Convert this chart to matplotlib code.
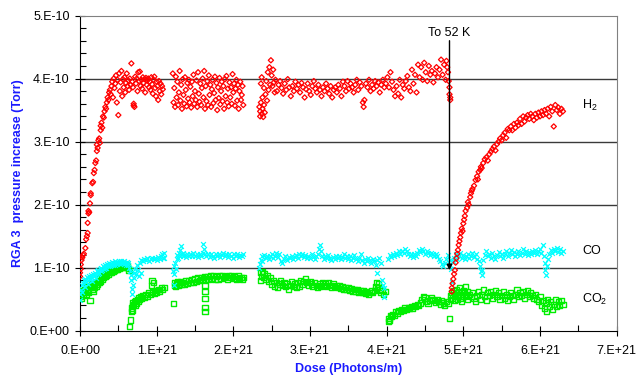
import numpy as np
import matplotlib
matplotlib.use("Agg")
import matplotlib.pyplot as plt
from matplotlib.ticker import MultipleLocator, FuncFormatter

plt.rcParams["font.family"] = ["Liberation Sans", "DejaVu Sans"]
plt.rcParams["mathtext.fontset"] = "custom"
plt.rcParams["mathtext.rm"] = "Liberation Sans"
plt.rcParams["mathtext.it"] = "Liberation Sans"

# dose in units of 1e21 photons/m, pressure in units of 1e-10 Torr
h2_dose = [
    0.00, 0.00, 0.01, 0.01, 0.02, 0.03, 0.04, 0.05, 0.07, 0.08, 0.09, 0.10, 0.10, 0.11, 0.11, 0.12,
    0.13, 0.14, 0.14, 0.16, 0.17, 0.18, 0.19, 0.20, 0.21, 0.22, 0.22, 0.23, 0.24, 0.25, 0.26, 0.27,
    0.27, 0.28, 0.29, 0.30, 0.31, 0.32, 0.33, 0.34, 0.35, 0.36, 0.37, 0.38, 0.39, 0.40, 0.41, 0.42,
    0.43, 0.44, 0.45, 0.46, 0.47, 0.48, 0.49, 0.50, 0.51, 0.52, 0.53, 0.54, 0.55, 0.56, 0.57, 0.58,
    0.59, 0.60, 0.61, 0.62, 0.63, 0.64, 0.65, 0.66, 0.67, 0.68, 0.69, 0.70, 0.70, 0.71, 0.72, 0.73,
    0.74, 0.75, 0.76, 0.77, 0.78, 0.79, 0.80, 0.81, 0.82, 0.83, 0.84, 0.85, 0.86, 0.87, 0.88, 0.89,
    0.90, 0.91, 0.92, 0.93, 0.94, 0.95, 0.96, 0.97, 0.98, 0.99, 1.00, 1.01, 1.02, 1.03, 1.04, 1.05,
    1.06, 1.07, 1.08,
    1.21, 1.22, 1.23, 1.24, 1.25, 1.26, 1.27, 1.28, 1.29, 1.30, 1.31, 1.32, 1.33, 1.34, 1.35, 1.36,
    1.37, 1.38, 1.39, 1.40, 1.41, 1.42, 1.43, 1.44, 1.45, 1.46, 1.47, 1.48, 1.49, 1.50, 1.51, 1.52,
    1.53, 1.54, 1.55, 1.56, 1.57, 1.58, 1.59, 1.60, 1.61, 1.62, 1.63, 1.64, 1.65, 1.66, 1.67, 1.68,
    1.69, 1.70, 1.71, 1.72, 1.73, 1.74, 1.75, 1.76, 1.77, 1.78, 1.79, 1.80, 1.81, 1.82, 1.83, 1.84,
    1.85, 1.86, 1.87, 1.88, 1.89, 1.90, 1.91, 1.92, 1.93, 1.94, 1.95, 1.96, 1.97, 1.98, 1.99, 2.00,
    2.01, 2.02, 2.03, 2.04, 2.05, 2.06, 2.07, 2.08, 2.09, 2.10, 2.11, 2.12, 2.13,
    2.34, 2.35, 2.35, 2.36, 2.36, 2.37, 2.37, 2.38, 2.38, 2.39, 2.40, 2.40, 2.41, 2.42, 2.43, 2.44,
    2.45, 2.46, 2.47, 2.48, 2.49, 2.50, 2.51, 2.52, 2.53, 2.54, 2.55, 2.57, 2.59, 2.61, 2.63, 2.65,
    2.67, 2.69, 2.71, 2.73, 2.75, 2.77, 2.79, 2.81, 2.83, 2.85, 2.87, 2.89, 2.91, 2.93, 2.95, 2.97,
    2.99, 3.01, 3.03, 3.05, 3.07, 3.09, 3.11, 3.13, 3.15, 3.17, 3.19, 3.21, 3.23, 3.25, 3.27, 3.29,
    3.31, 3.33, 3.35, 3.37, 3.39, 3.41, 3.43, 3.45, 3.47, 3.49, 3.51, 3.53, 3.55, 3.57, 3.59, 3.61,
    3.63, 3.65, 3.67, 3.69, 3.70, 3.71, 3.73, 3.75, 3.77, 3.79, 3.81, 3.83, 3.85, 3.87, 3.89, 3.91,
    3.93, 3.95, 3.97, 3.99, 4.01, 4.03, 4.05, 4.07, 4.09, 4.11, 4.13, 4.15, 4.17, 4.19, 4.21, 4.23,
    4.25, 4.27, 4.29, 4.31, 4.33, 4.35, 4.37, 4.39, 4.41, 4.43, 4.45, 4.47, 4.49, 4.51, 4.53, 4.55,
    4.57, 4.59, 4.61, 4.63, 4.65, 4.67, 4.69, 4.71, 4.73, 4.75, 4.77, 4.78, 4.79, 4.80, 4.81, 4.82,
    4.82, 4.83, 4.83,
    4.85, 4.85, 4.86, 4.87, 4.88, 4.89, 4.90, 4.91, 4.92, 4.93, 4.94, 4.95, 4.96, 4.97, 4.98, 4.99,
    5.00, 5.01, 5.02, 5.03, 5.05, 5.06, 5.07, 5.09, 5.10, 5.11, 5.12, 5.14, 5.16, 5.18, 5.19, 5.20,
    5.22, 5.23, 5.24, 5.26, 5.28, 5.30, 5.32, 5.34, 5.36, 5.38, 5.40, 5.42, 5.44, 5.46, 5.48, 5.50,
    5.52, 5.54, 5.56, 5.58, 5.60, 5.62, 5.64, 5.66, 5.68, 5.70, 5.72, 5.74, 5.76, 5.78, 5.80, 5.82,
    5.84, 5.86, 5.88, 5.90, 5.92, 5.94, 5.96, 5.98, 6.00, 6.02, 6.04, 6.06, 6.08, 6.10, 6.12, 6.14,
    6.16, 6.18, 6.20, 6.22, 6.24, 6.26, 6.28, 6.30,
]
h2_pressure = [
    0.86, 0.92, 0.98, 1.05, 1.12, 1.16, 1.20, 1.22, 1.31, 1.45, 1.50, 1.55, 1.71, 1.86, 1.90, 1.88,
    2.02, 2.15, 2.18, 2.34, 2.36, 2.50, 2.55, 2.66, 2.70, 2.85, 2.95, 2.90, 3.02, 3.05, 2.98, 3.18,
    3.25, 3.30, 3.22, 3.40, 3.38, 3.48, 3.55, 3.52, 3.62, 3.70, 3.66, 3.78, 3.82, 3.75, 3.88, 3.95,
    3.70, 4.00, 3.85, 3.92, 4.05, 3.62, 3.98, 3.42, 4.08, 3.80, 3.94, 4.12, 3.72, 3.99, 3.86, 4.02,
    3.78, 3.93, 4.08, 3.88, 3.97, 3.82, 4.00, 3.90, 4.24, 3.95, 3.86, 3.57, 3.60, 3.55, 4.03, 3.92,
    4.00, 3.80, 4.10, 3.96, 4.11, 3.88, 3.98, 3.84, 4.02, 3.93, 3.99, 3.78, 4.01, 3.90, 3.97, 4.00,
    3.86, 3.95, 3.82, 4.02, 3.91, 3.76, 3.98, 4.03, 3.85, 3.72, 3.95, 3.88, 3.66, 3.96, 3.80, 3.92,
    3.75, 3.88, 3.83,
    4.08, 3.62, 3.85, 3.55, 4.03, 3.70, 3.95, 3.58, 3.78, 4.12, 3.65, 3.90, 3.52, 3.99, 3.74, 3.60,
    4.02, 3.82, 3.56, 3.93, 3.68, 3.98, 3.62, 3.87, 3.54, 3.95, 3.72, 4.06, 3.60, 3.80, 3.66, 3.97,
    3.55, 4.10, 3.76, 3.63, 3.92, 3.58, 3.85, 4.00, 3.70, 4.12, 3.52, 3.88, 3.64, 3.96, 3.58, 4.05,
    3.74, 3.90, 3.55, 3.83, 3.98, 3.61, 3.77, 4.03, 3.66, 3.93, 3.50, 3.86, 3.69, 4.01, 3.59, 3.80,
    3.95, 3.64, 3.88, 3.52, 3.99, 3.72, 4.04, 3.62, 3.84, 3.56, 3.94, 3.70, 3.86, 3.60, 4.07, 3.78,
    3.92, 3.57, 3.84, 3.98, 3.65, 3.90, 3.52, 3.80, 3.95, 3.66, 3.74, 3.88, 3.58,
    3.55, 3.48, 3.40, 3.92, 3.62, 3.44, 4.02, 3.70, 3.52, 3.39, 3.85, 3.58, 3.46, 3.75, 3.96, 3.65,
    4.10, 3.82, 4.18, 3.90, 4.29, 4.05, 3.88, 4.14, 3.94, 3.78, 3.98, 3.80, 3.90, 3.96, 3.85, 3.76,
    3.92, 3.82, 3.99, 3.86, 3.72, 3.88, 3.80, 3.95, 3.84, 3.90, 3.78, 3.93, 3.86, 3.70, 3.83, 3.92,
    3.80, 3.74, 3.88, 3.96, 3.84, 3.78, 3.90, 3.82, 3.72, 3.86, 3.80, 3.92, 3.84, 3.76, 3.88, 3.70,
    3.82, 3.86, 3.78, 3.90, 3.84, 3.72, 3.95, 3.88, 3.80, 3.96, 3.84, 3.92, 3.86, 3.78, 3.90, 3.98,
    3.82, 3.94, 3.88, 3.62, 3.55, 3.66, 3.92, 3.86, 3.98, 3.80, 3.90, 3.84, 3.96, 3.88, 3.94, 3.78,
    3.90, 3.98, 3.86, 3.92, 4.02, 3.86, 4.10, 3.95, 3.82, 3.72, 3.88, 3.76, 3.98, 3.70, 3.90, 3.84,
    3.96, 4.04, 3.86, 3.80, 4.14, 3.92, 4.06, 3.78, 4.22, 4.02, 4.18, 3.98, 4.25, 4.10, 3.96, 4.20,
    4.06, 4.12, 3.94, 4.08, 4.18, 4.02, 4.14, 4.30, 4.06, 4.22, 3.98, 4.28, 4.18, 4.10, 3.96, 3.86,
    3.75, 3.70, 3.66,
    0.62, 0.68, 0.75, 0.82, 0.90, 0.96, 1.08, 1.15, 1.22, 1.28, 1.36, 1.42, 1.48, 1.55, 1.62, 1.58,
    1.70, 1.76, 1.82, 1.90, 1.95, 2.04, 2.00, 2.12, 2.18, 2.22, 2.25, 2.30, 2.39, 2.45, 2.40, 2.52,
    2.55, 2.60, 2.58, 2.66, 2.72, 2.75, 2.70, 2.80, 2.84, 2.88, 2.92, 2.86, 2.96, 3.00, 3.05, 3.02,
    3.10, 3.14, 3.06, 3.20, 3.18, 3.24, 3.18, 3.28, 3.22, 3.30, 3.26, 3.36, 3.28, 3.40, 3.32, 3.38,
    3.42, 3.36, 3.44, 3.40, 3.34, 3.44, 3.38, 3.46, 3.40, 3.48, 3.42, 3.50, 3.44, 3.52, 3.40, 3.55,
    3.48, 3.24, 3.58, 3.50, 3.54, 3.44, 3.52, 3.48,
]

co_dose = [
    0.00, 0.00, 0.01, 0.02, 0.03, 0.04, 0.05, 0.06, 0.07, 0.08, 0.09, 0.10, 0.11, 0.12, 0.13, 0.14,
    0.15, 0.16, 0.17, 0.18, 0.19, 0.20, 0.21, 0.22, 0.23, 0.24, 0.25, 0.26, 0.27, 0.28, 0.29, 0.30,
    0.31, 0.32, 0.33, 0.34, 0.35, 0.36, 0.37, 0.38, 0.39, 0.40, 0.41, 0.42, 0.43, 0.44, 0.45, 0.46,
    0.47, 0.48, 0.49, 0.50, 0.51, 0.52, 0.53, 0.54, 0.55, 0.56, 0.57, 0.58, 0.59, 0.60, 0.61, 0.62,
    0.63, 0.64, 0.65, 0.66, 0.67, 0.68, 0.68, 0.69, 0.70, 0.71, 0.72, 0.73, 0.74, 0.75, 0.77, 0.78,
    0.79, 0.80, 0.82, 0.84, 0.86, 0.88, 0.90, 0.92, 0.94, 0.96, 0.98, 1.00, 1.02, 1.04, 1.06, 1.07,
    1.08, 1.09, 1.10,
    1.21, 1.22, 1.22, 1.23, 1.24, 1.25, 1.26, 1.27, 1.28, 1.29, 1.30, 1.31, 1.32, 1.33, 1.34, 1.35,
    1.36, 1.38, 1.40, 1.42, 1.44, 1.46, 1.48, 1.50, 1.52, 1.54, 1.56, 1.58, 1.60, 1.61, 1.62, 1.63,
    1.65, 1.67, 1.69, 1.71, 1.73, 1.75, 1.77, 1.79, 1.81, 1.83, 1.85, 1.87, 1.89, 1.91, 1.93, 1.95,
    1.97, 1.99, 2.01, 2.03, 2.05, 2.07, 2.09, 2.11, 2.13,
    2.34, 2.35, 2.36, 2.37, 2.38, 2.40, 2.42, 2.44, 2.46, 2.48, 2.50, 2.52, 2.54, 2.56, 2.58, 2.60,
    2.62, 2.64, 2.66, 2.68, 2.70, 2.72, 2.74, 2.76, 2.78, 2.80, 2.82, 2.84, 2.86, 2.88, 2.90, 2.92,
    2.94, 2.96, 2.98, 3.00, 3.02, 3.04, 3.06, 3.08, 3.10, 3.12, 3.13, 3.14, 3.16, 3.18, 3.20, 3.22,
    3.24, 3.26, 3.28, 3.30, 3.32, 3.34, 3.36, 3.38, 3.40, 3.42, 3.44, 3.46, 3.48, 3.50, 3.52, 3.54,
    3.56, 3.58, 3.60, 3.62, 3.64, 3.66, 3.68, 3.70, 3.72, 3.74, 3.76, 3.78, 3.80, 3.82, 3.84, 3.86,
    3.87, 3.88, 3.90, 3.92, 3.94, 3.95, 3.96, 3.97,
    4.02, 4.04, 4.06, 4.08, 4.10, 4.12, 4.14, 4.16, 4.18, 4.20, 4.22, 4.24, 4.26, 4.28, 4.30, 4.32,
    4.34, 4.36, 4.38, 4.40, 4.42, 4.44, 4.46, 4.48, 4.50, 4.52, 4.54, 4.56, 4.58, 4.60, 4.62, 4.64,
    4.66, 4.68, 4.70, 4.72, 4.74, 4.76, 4.78, 4.80, 4.82,
    4.83, 4.84, 4.85, 4.86, 4.88, 4.90, 4.92, 4.94, 4.96, 4.98, 5.00, 5.02, 5.04, 5.06, 5.08, 5.10,
    5.12, 5.14, 5.16, 5.18, 5.20, 5.22, 5.23, 5.24, 5.25, 5.26, 5.28, 5.30, 5.32, 5.34, 5.36, 5.38,
    5.40, 5.42, 5.44, 5.46, 5.48, 5.50, 5.52, 5.54, 5.56, 5.58, 5.60, 5.62, 5.64, 5.66, 5.68, 5.70,
    5.72, 5.74, 5.76, 5.78, 5.80, 5.82, 5.84, 5.86, 5.88, 5.90, 5.92, 5.94, 5.96, 5.98, 6.00, 6.02,
    6.04, 6.05, 6.06, 6.07, 6.08, 6.09, 6.10, 6.12, 6.14, 6.16, 6.18, 6.20, 6.22, 6.24, 6.26, 6.28,
    6.30,
]
co_pressure = [
    0.49, 0.58, 0.65, 0.72, 0.62, 0.76, 0.80, 0.70, 0.82, 0.78, 0.85, 0.80, 0.74, 0.86, 0.82, 0.88,
    0.84, 0.79, 0.90, 0.86, 0.92, 0.88, 0.84, 0.94, 0.90, 0.96, 0.92, 0.98, 0.94, 1.00, 0.96, 1.02,
    0.98, 1.00, 1.04, 0.99, 1.06, 1.02, 1.04, 1.08, 1.03, 1.06, 1.05, 1.09, 1.04, 1.07, 1.10, 1.05,
    1.08, 1.06, 1.09, 1.07, 1.10, 1.06, 1.08, 1.11, 1.07, 1.09, 1.06, 1.10, 1.08, 1.05, 1.09, 1.07,
    1.04, 1.00, 0.95, 0.88, 0.80, 0.66, 0.58, 0.72, 0.84, 0.92, 0.98, 0.90, 1.04, 0.96, 0.86, 1.08,
    0.92, 1.12, 1.10, 1.14, 1.12, 1.15, 1.11, 1.14, 1.16, 1.13, 1.15, 1.12, 1.17, 1.14, 1.18, 1.22,
    1.16, 1.24, 1.15,
    0.95, 0.90, 0.72, 1.02, 1.08, 0.98, 1.14, 1.20, 1.16, 1.24, 1.18, 1.28, 1.34, 1.22, 1.18, 1.24,
    1.20, 1.17, 1.21, 1.18, 1.22, 1.19, 1.23, 1.18, 1.21, 1.17, 1.22, 1.19, 1.24, 1.38, 1.30, 1.22,
    1.18, 1.21, 1.17, 1.22, 1.19, 1.16, 1.21, 1.18, 1.22, 1.17, 1.20, 1.23, 1.18, 1.21, 1.17, 1.22,
    1.19, 1.16, 1.21, 1.18, 1.22, 1.17, 1.20, 1.18, 1.21,
    1.00, 1.06, 1.12, 1.18, 1.10, 1.20, 1.15, 1.19, 1.13, 1.18, 1.21, 1.16, 1.19, 1.24, 1.17, 1.21,
    1.10, 1.08, 1.14, 1.18, 1.12, 1.17, 1.15, 1.19, 1.13, 1.17, 1.20, 1.16, 1.21, 1.18, 1.22, 1.17,
    1.20, 1.15, 1.19, 1.16, 1.21, 1.17, 1.13, 1.18, 1.22, 1.30, 1.36, 1.26, 1.18, 1.14, 1.19, 1.15,
    1.20, 1.16, 1.12, 1.17, 1.14, 1.19, 1.15, 1.18, 1.13, 1.17, 1.21, 1.16, 1.19, 1.14, 1.18, 1.12,
    1.16, 1.20, 1.14, 1.10, 1.16, 1.22, 1.12, 1.08, 1.14, 1.10, 1.16, 1.12, 1.08, 1.14, 1.10, 1.05,
    0.92, 1.12, 1.16, 1.08, 0.80, 0.72, 0.54, 0.68,
    1.14, 1.20, 1.17, 1.22, 1.18, 1.24, 1.20, 1.26, 1.22, 1.27, 1.24, 1.30, 1.26, 1.22, 1.18, 1.21,
    1.17, 1.22, 1.19, 1.24, 1.28, 1.25, 1.30, 1.26, 1.22, 1.27, 1.23, 1.20, 1.24, 1.21, 1.18, 1.22,
    1.19, 1.14, 1.10, 1.06, 1.02, 1.08, 1.14, 1.20, 1.12,
    1.04, 0.98, 0.78, 1.10, 1.16, 1.22, 1.14, 1.19, 1.24, 1.16, 1.20, 1.13, 1.18, 1.22, 1.15, 1.19,
    1.24, 1.17, 1.21, 1.14, 1.10, 1.02, 0.94, 0.88, 0.96, 1.12, 1.20, 1.27, 1.18, 1.22, 1.16, 1.24,
    1.19, 1.14, 1.20, 1.25, 1.18, 1.22, 1.16, 1.21, 1.26, 1.19, 1.23, 1.28, 1.21, 1.25, 1.18, 1.22,
    1.27, 1.20, 1.24, 1.29, 1.22, 1.26, 1.20, 1.25, 1.21, 1.27, 1.23, 1.28, 1.22, 1.26, 1.30, 1.24,
    1.36, 1.18, 1.08, 0.96, 0.88, 1.02, 1.14, 1.22, 1.28, 1.24, 1.30, 1.26, 1.31, 1.25, 1.29, 1.23,
    1.27,
]

co2_dose = [
    0.00, 0.00, 0.01, 0.02, 0.03, 0.04, 0.05, 0.06, 0.07, 0.08, 0.09, 0.10, 0.11, 0.12, 0.13, 0.14,
    0.15, 0.16, 0.17, 0.18, 0.19, 0.20, 0.21, 0.22, 0.23, 0.24, 0.25, 0.26, 0.27, 0.28, 0.29, 0.30,
    0.31, 0.32, 0.33, 0.34, 0.35, 0.36, 0.37, 0.38, 0.39, 0.40, 0.41, 0.42, 0.43, 0.44, 0.45, 0.46,
    0.47, 0.48, 0.49, 0.50, 0.51, 0.52, 0.53, 0.54, 0.55, 0.56, 0.57, 0.58, 0.59, 0.60, 0.61, 0.62,
    0.63, 0.64, 0.65, 0.66, 0.67, 0.67, 0.68, 0.68, 0.69, 0.70, 0.71, 0.72, 0.73, 0.74, 0.75, 0.76,
    0.77, 0.78, 0.79, 0.80, 0.82, 0.84, 0.86, 0.88, 0.90, 0.92, 0.93, 0.94, 0.95, 0.96, 0.97, 0.98,
    1.00, 1.02, 1.04, 1.06, 1.08, 1.10,
    1.22, 1.23, 1.24, 1.25, 1.26, 1.27, 1.28, 1.29, 1.30, 1.31, 1.32, 1.34, 1.36, 1.38, 1.40, 1.42,
    1.44, 1.46, 1.48, 1.50, 1.52, 1.54, 1.56, 1.58, 1.60, 1.62, 1.63, 1.63, 1.63, 1.63, 1.63, 1.64,
    1.66, 1.68, 1.70, 1.72, 1.74, 1.76, 1.78, 1.80, 1.82, 1.84, 1.86, 1.88, 1.90, 1.92, 1.94, 1.96,
    1.98, 2.00, 2.02, 2.04, 2.06, 2.08, 2.10, 2.12, 2.13,
    2.35, 2.36, 2.37, 2.38, 2.39, 2.40, 2.42, 2.44, 2.46, 2.48, 2.50, 2.52, 2.54, 2.56, 2.58, 2.60,
    2.62, 2.64, 2.66, 2.68, 2.70, 2.72, 2.74, 2.76, 2.78, 2.80, 2.82, 2.84, 2.86, 2.88, 2.90, 2.92,
    2.94, 2.96, 2.98, 3.00, 3.02, 3.04, 3.06, 3.08, 3.10, 3.12, 3.14, 3.16, 3.18, 3.20, 3.22, 3.24,
    3.26, 3.28, 3.30, 3.32, 3.34, 3.36, 3.38, 3.40, 3.42, 3.44, 3.46, 3.48, 3.50, 3.52, 3.54, 3.56,
    3.58, 3.60, 3.62, 3.64, 3.66, 3.68, 3.70, 3.72, 3.74, 3.76, 3.78, 3.80, 3.82, 3.84, 3.86, 3.87,
    3.88, 3.89, 3.90, 3.92, 3.94, 3.96, 3.98,
    4.02, 4.03, 4.04, 4.05, 4.06, 4.08, 4.10, 4.12, 4.14, 4.16, 4.18, 4.20, 4.22, 4.24, 4.26, 4.28,
    4.30, 4.32, 4.34, 4.36, 4.38, 4.40, 4.42, 4.44, 4.46, 4.48, 4.50, 4.52, 4.54, 4.56, 4.58, 4.60,
    4.62, 4.64, 4.66, 4.68, 4.70, 4.72, 4.74, 4.76, 4.78, 4.80, 4.82, 4.83, 4.84,
    4.85, 4.86, 4.87, 4.88, 4.89, 4.90, 4.91, 4.92, 4.93, 4.94, 4.95, 4.96, 4.97, 4.98, 4.99, 5.00,
    5.01, 5.02, 5.03, 5.04, 5.05, 5.06, 5.08, 5.10, 5.12, 5.14, 5.16, 5.18, 5.20, 5.22, 5.24, 5.26,
    5.28, 5.30, 5.32, 5.34, 5.36, 5.38, 5.40, 5.42, 5.44, 5.46, 5.48, 5.50, 5.52, 5.54, 5.56, 5.58,
    5.60, 5.62, 5.64, 5.66, 5.68, 5.70, 5.72, 5.74, 5.76, 5.78, 5.80, 5.82, 5.84, 5.86, 5.88, 5.90,
    5.92, 5.94, 5.96, 5.98, 6.00, 6.02, 6.04, 6.06, 6.08, 6.09, 6.10, 6.12, 6.14, 6.16, 6.18, 6.20,
    6.22, 6.24, 6.26, 6.28, 6.30,
]
co2_pressure = [
    0.55, 0.62, 0.58, 0.52, 0.64, 0.60, 0.56, 0.66, 0.62, 0.58, 0.70, 0.64, 0.60, 0.72, 0.48, 0.68,
    0.74, 0.66, 0.62, 0.72, 0.68, 0.76, 0.70, 0.78, 0.74, 0.80, 0.76, 0.84, 0.78, 0.86, 0.82, 0.88,
    0.84, 0.90, 0.86, 0.92, 0.88, 0.94, 0.90, 0.95, 0.92, 0.96, 0.93, 0.98, 0.94, 0.99, 0.96, 1.00,
    0.97, 1.01, 0.98, 1.02, 0.99, 1.03, 1.00, 1.04, 1.01, 1.05, 1.02, 1.04, 1.01, 1.05, 1.02, 1.03,
    0.99, 0.96, 0.07, 0.17, 0.30, 0.36, 0.40, 0.44, 0.32, 0.42, 0.46, 0.40, 0.48, 0.44, 0.50, 0.47,
    0.52, 0.49, 0.54, 0.51, 0.56, 0.53, 0.58, 0.55, 0.60, 0.57, 0.72, 0.80, 0.62, 0.76, 0.59, 0.64,
    0.61, 0.66, 0.63, 0.68, 0.65, 0.69,
    0.43, 0.72, 0.76, 0.70, 0.74, 0.78, 0.72, 0.76, 0.73, 0.78, 0.74, 0.77, 0.73, 0.79, 0.75, 0.80,
    0.76, 0.81, 0.77, 0.82, 0.78, 0.84, 0.80, 0.85, 0.81, 0.86, 0.72, 0.62, 0.51, 0.37, 0.31, 0.82,
    0.86, 0.81, 0.87, 0.83, 0.88, 0.82, 0.86, 0.81, 0.87, 0.83, 0.88, 0.84, 0.86, 0.82, 0.88, 0.84,
    0.87, 0.83, 0.86, 0.82, 0.87, 0.83, 0.85, 0.81, 0.84,
    0.80, 0.92, 0.86, 0.94, 0.84, 0.90, 0.82, 0.88, 0.78, 0.84, 0.74, 0.80, 0.70, 0.76, 0.68, 0.74,
    0.80, 0.72, 0.76, 0.70, 0.74, 0.66, 0.72, 0.78, 0.70, 0.74, 0.68, 0.76, 0.70, 0.80, 0.74, 0.78,
    0.82, 0.76, 0.72, 0.78, 0.74, 0.70, 0.76, 0.72, 0.68, 0.74, 0.70, 0.76, 0.72, 0.74, 0.70, 0.76,
    0.72, 0.68, 0.74, 0.70, 0.72, 0.68, 0.71, 0.67, 0.70, 0.66, 0.69, 0.65, 0.68, 0.64, 0.67, 0.63,
    0.66, 0.62, 0.65, 0.61, 0.64, 0.60, 0.63, 0.59, 0.62, 0.58, 0.61, 0.63, 0.60, 0.64, 0.70, 0.76,
    0.68, 0.74, 0.66, 0.60, 0.64, 0.58, 0.62,
    0.14, 0.20, 0.16, 0.24, 0.22, 0.26, 0.24, 0.30, 0.28, 0.32, 0.30, 0.34, 0.32, 0.36, 0.34, 0.37,
    0.35, 0.38, 0.36, 0.40, 0.38, 0.42, 0.40, 0.44, 0.50, 0.54, 0.52, 0.46, 0.43, 0.48, 0.52, 0.50,
    0.48, 0.45, 0.49, 0.46, 0.42, 0.47, 0.44, 0.40, 0.46, 0.43, 0.20, 0.50, 0.56,
    0.60, 0.52, 0.64, 0.48, 0.58, 0.54, 0.66, 0.50, 0.60, 0.56, 0.68, 0.52, 0.62, 0.46, 0.58, 0.64,
    0.54, 0.60, 0.70, 0.56, 0.62, 0.50, 0.58, 0.54, 0.60, 0.52, 0.46, 0.56, 0.62, 0.50, 0.58, 0.66,
    0.54, 0.48, 0.60, 0.56, 0.62, 0.52, 0.58, 0.64, 0.54, 0.60, 0.50, 0.56, 0.62, 0.52, 0.58, 0.48,
    0.54, 0.60, 0.56, 0.50, 0.58, 0.66, 0.54, 0.60, 0.56, 0.62, 0.52, 0.58, 0.64, 0.55, 0.60, 0.56,
    0.52, 0.58, 0.50, 0.46, 0.54, 0.40, 0.48, 0.36, 0.44, 0.30, 0.50, 0.38, 0.46, 0.34, 0.42, 0.50,
    0.38, 0.46, 0.40, 0.48, 0.42,
]

x_ticks = [0, 1, 2, 3, 4, 5, 6, 7]
y_ticks = [0, 1, 2, 3, 4, 5]
event_dose = 4.82
event_label = "To 52 K"

label_blue = "#1a1aff"

fig = plt.figure(figsize=(6.37, 3.79), dpi=100)
ax = fig.add_axes([0.1256, 0.1274, 0.8424, 0.8317])

for y in y_ticks[1:-1]:
    ax.axhline(y * 1e-10, color="#3a3a3a", linewidth=1.0, zorder=1)

ax.scatter(np.array(co2_dose) * 1e21, np.array(co2_pressure) * 1e-10, marker="s",
           s=14, facecolors="none", edgecolors="#00ee00", linewidths=1.0, zorder=3)
ax.scatter(np.array(co_dose) * 1e21, np.array(co_pressure) * 1e-10, marker="x",
           s=12, color="#00ffff", linewidths=0.9, zorder=4)
ax.scatter(np.array(h2_dose) * 1e21, np.array(h2_pressure) * 1e-10, marker="D",
           s=7, facecolors="none", edgecolors="#ff0000", linewidths=0.9, zorder=5)

# temperature change marker
ax.annotate("", xy=(event_dose * 1e21, 0.96e-10), xytext=(event_dose * 1e21, 4.6e-10),
            arrowprops=dict(arrowstyle="-|>", color="black", lw=1.0,
                            mutation_scale=8, shrinkA=0, shrinkB=0), zorder=6)
ax.text(event_dose * 1e21, 4.67e-10, event_label, ha="center", va="baseline", fontsize=9)

ax.text(6.55e21, 3.58e-10, r"H$_2$", ha="left", va="center", fontsize=9)
ax.text(6.55e21, 1.27e-10, "CO", ha="left", va="center", fontsize=9)
ax.text(6.55e21, 0.49e-10, r"CO$_2$", ha="left", va="center", fontsize=9)

ax.set_xlim(0, 7e21)
ax.set_ylim(0, 5e-10)
ax.set_xticks([v * 1e21 for v in x_ticks])
ax.set_yticks([v * 1e-10 for v in y_ticks])
ax.xaxis.set_minor_locator(MultipleLocator(0.5e21))
ax.yaxis.set_minor_locator(MultipleLocator(0.2e-10))
ax.xaxis.set_major_formatter(FuncFormatter(lambda v, p: f"{round(v / 1e21)}.E+21" if v else "0.E+00"))
ax.yaxis.set_major_formatter(FuncFormatter(lambda v, p: f"{round(v / 1e-10)}.E-10" if v else "0.E+00"))
ax.tick_params(which="major", direction="inout", length=7, width=0.8, labelsize=9)
ax.tick_params(axis="x", which="major", pad=7)
ax.tick_params(axis="y", which="major", pad=4)
ax.tick_params(which="minor", direction="in", length=4, width=0.8)

for side in ("top", "right"):
    ax.spines[side].set_color("#808080")
for side in ("left", "bottom"):
    ax.spines[side].set_color("black")

ax.set_xlabel("Dose (Photons/m)", color=label_blue, fontweight="bold", fontsize=9, labelpad=4)
ax.set_ylabel("RGA 3  pressure increase (Torr)", color=label_blue, fontweight="bold",
              fontsize=9, labelpad=4)

fig.savefig("out.png", dpi=100)
plt.close(fig)
